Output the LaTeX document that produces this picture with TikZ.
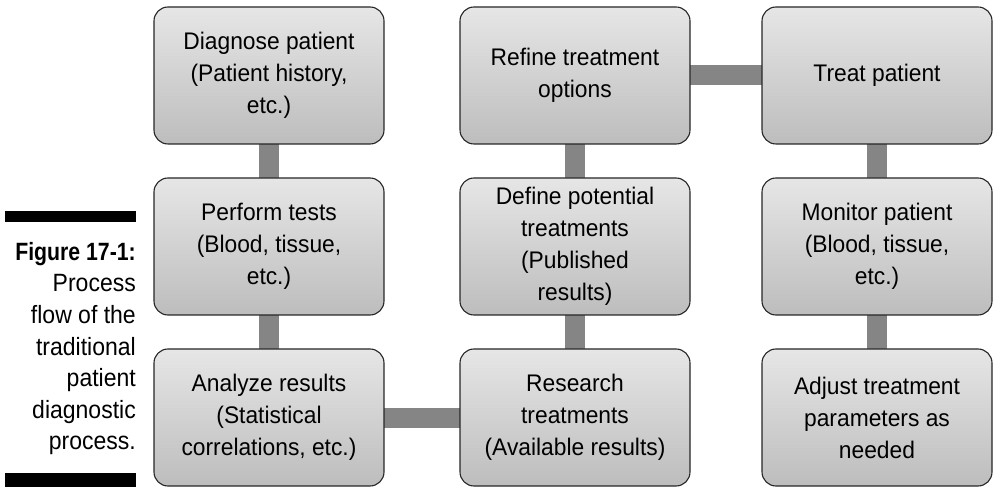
\documentclass[tikz,border=0pt]{standalone}
\usepackage{fontspec}
\usepackage{xcolor}
\usepackage{tikz}
\usetikzlibrary{positioning,backgrounds}

\newfontfamily\boxfont[FakeStretch=0.95]{Liberation Sans}
\newfontfamily\capfont[FakeStretch=0.92]{Liberation Sans}
\definecolor{boxtop}{HTML}{E6E6E6}
\definecolor{boxbot}{HTML}{BDBDBD}
\definecolor{bargray}{HTML}{858585}

\begin{document}
\begin{tikzpicture}[x=1pt, y=-1pt, node distance=34pt, semithick]
	\tikzstyle{stage}=[draw=black!85, line width=1.1pt, rounded corners=14pt, top color=boxtop, bottom color=boxbot,
		minimum width=230pt, minimum height=137pt, outer sep=0pt, align=center,
		font=\boxfont\fontsize{24}{32}\selectfont]
	\tikzstyle{bar}=[draw=bargray, line width=20pt]
	\useasboundingbox (0,0) rectangle (999,494);

	\node[stage] (diag) at (269,75.5) {Diagnose patient\\(Patient history,\\etc.)};
	\node[stage] (tests) [below=of diag] {Perform tests\\(Blood, tissue,\\etc.)};
	\node[stage] (analyze) [below=of tests] {Analyze results\\(Statistical\\correlations, etc.)};

	\node[stage] (research) [right=76pt of analyze] {Research\\treatments\\(Available results)};
	\node[stage] (define) [above=of research] {Define potential\\treatments\\(Published\\results)};
	\node[stage] (refine) [above=of define] {Refine treatment\\options};

	\node[stage] (treat) [right=72pt of refine] {Treat patient};
	\node[stage] (monitor) [below=of treat] {Monitor patient\\(Blood, tissue,\\etc.)};
	\node[stage] (adjust) [below=of monitor] {Adjust treatment\\parameters as\\needed};

	\begin{pgfonlayer}{background}
		\draw[bar] (diag) -- (tests);
		\draw[bar] (tests) -- (analyze);
		\draw[bar] (analyze) -- (research);
		\draw[bar] (research) -- (define);
		\draw[bar] (define) -- (refine);
		\draw[bar] (refine) -- (treat);
		\draw[bar] (treat) -- (monitor);
		\draw[bar] (monitor) -- (adjust);
	\end{pgfonlayer}

	% caption
	\node[fill=black, minimum width=131pt, minimum height=11pt, inner sep=0pt] (topline) at (70.5,216.5) {};
	\node[fill=black, minimum width=131pt, minimum height=14pt, inner sep=0pt] (botline) at (70.5,480) {};
	\node[anchor=north east, inner sep=0pt, align=right, font=\capfont\fontsize{25}{31.6}\selectfont] (caption) at (136,242)
		{{\addfontfeatures{FakeStretch=0.85}\bfseries Figure 17-1:}\\Process\\flow of the\\traditional\\patient\\diagnostic\\process.};
\end{tikzpicture}
\end{document}
